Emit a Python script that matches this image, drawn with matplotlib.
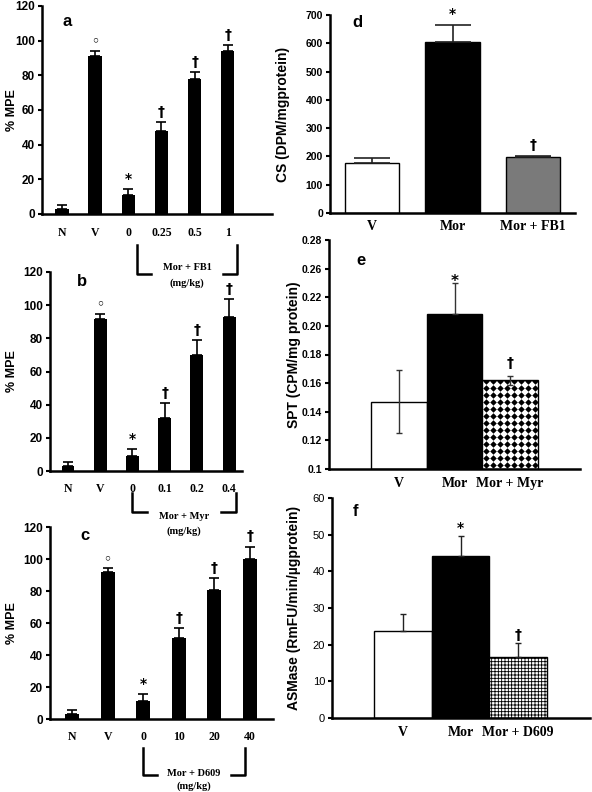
import numpy as np
import matplotlib
matplotlib.use("Agg")
import matplotlib.pyplot as plt
import matplotlib.transforms as mtransforms
from matplotlib.lines import Line2D

# ---- data ----
a_labels = ['N', 'V', '0', '0.25', '0.5', '1']
a_mean = [3, 91, 11, 48, 78, 94]
a_err = [2.3, 3, 3.4, 5, 3.8, 3.3]
a_marks = ['', '◦', '*', '†', '†', '†']

b_labels = ['N', 'V', '0', '0.1', '0.2', '0.4']
b_mean = [3, 91.5, 9, 32, 70, 93]
b_err = [2.4, 3.3, 4, 9, 8.8, 10.5]
b_marks = ['', '◦', '*', '†', '†', '†']

c_labels = ['N', 'V', '0', '10', '20', '40']
c_mean = [3, 91.7, 11.5, 50.4, 80.6, 100]
c_err = [2.5, 2.5, 4, 6.3, 7.7, 7.7]
c_marks = ['', '◦', '*', '†', '†', '†']

d_labels = ['V', 'Mor', 'Mor + FB1']
d_mean = [178, 603, 198]
d_err = [17, 63, 4]
d_marks = ['', '*', '†']

e_labels = ['V', 'Mor', 'Mor + Myr']
e_mean = [0.147, 0.208, 0.162]
e_err_lo = [0.022, 0.0, 0.003]
e_err_hi = [0.022, 0.022, 0.003]
e_marks = ['', '*', '†']
e_ticks = [0.10, 0.12, 0.14, 0.16, 0.18, 0.20, 0.22, 0.24, 0.26]
e_ticklabels = ['0.1', '0.12', '0.14', '0.16', '0.18', '0.20', '0.22', '0.26', '0.28']

f_labels = ['V', 'Mor', 'Mor + D609']
f_mean = [23.6, 44.1, 16.6]
f_err = [4.8, 5.6, 3.8]
f_marks = ['', '*', '†']

SANS = ['Liberation Sans', 'DejaVu Sans']
SERIF = ['Liberation Serif', 'DejaVu Serif']

fig = plt.figure(figsize=(5.92, 7.92), dpi=100)


def style_axes(ax, ymin, ymax, yticks, ylabel, label_x, tick_bold=True, tick_size=8,
               xsize=8.5, ysize=9):
    ax.patch.set_visible(False)
    ax.set_ylim(ymin, ymax)
    ax.set_yticks(yticks)
    for s in ['top', 'right']:
        ax.spines[s].set_visible(False)
    for s in ['left', 'bottom']:
        ax.spines[s].set_linewidth(1.8)
    ax.spines['left'].set_bounds(ymin, ymax)
    ax.tick_params(axis='y', direction='out', length=3, width=1.5, pad=2)
    ax.tick_params(axis='x', length=0, pad=9)
    for t in ax.get_yticklabels():
        t.set_fontproperties({'family': SANS, 'weight': 'bold' if tick_bold else 'normal',
                              'size': tick_size})
    for t in ax.get_xticklabels():
        t.set_fontproperties({'family': SERIF, 'weight': 'bold', 'size': xsize})
    ax.set_ylabel(ylabel, family=SANS, fontweight='bold', fontsize=ysize)
    ax.yaxis.set_label_coords(label_x, 0.5)


def mpe_panel(rect, labels, mean, err, marks, letter, xlim, letter_xy,
              bracket, btext, label_x):
    ax = fig.add_axes(rect)
    x = np.arange(len(labels))
    ax.bar(x, mean, width=0.4, color='black')
    ax.errorbar(x, mean, yerr=[np.zeros(len(err)), err], fmt='none',
                ecolor='black', elinewidth=1.2, capsize=3.5, capthick=1.2)
    for xi, m, e, mk in zip(x, mean, err, marks):
        if mk:
            ax.text(xi, m + e + 2, mk, ha='center', va='bottom',
                    fontsize=10 if mk != '◦' else 9, fontweight='bold',
                    family=['DejaVu Sans'])
    ax.set_xlim(*xlim)
    ax.set_xticks(x)
    ax.set_xticklabels(labels)
    style_axes(ax, 0, 120, [0, 20, 40, 60, 80, 100, 120], '% MPE', label_x,
               tick_size=8.5)
    ax.text(letter_xy[0], letter_xy[1], letter, transform=ax.transAxes,
            fontsize=12, fontweight='bold', family=SANS)
    # bracket below the dose labels
    tr = mtransforms.blended_transform_factory(ax.transData, ax.transAxes)
    x0, x1, ytop, ybot, stub = bracket
    for xs, sgn in [(x0, 1), (x1, -1)]:
        ax.add_line(Line2D([xs, xs, xs + sgn * stub], [ytop, ybot, ybot],
                           transform=tr, color='black', lw=1.8, clip_on=False))
    ax.text((x0 + x1) / 2, btext[0], btext[1], transform=tr, ha='center',
            va='center', fontsize=7.5, fontweight='bold', family=SERIF)
    ax.text((x0 + x1) / 2, btext[2], '(mg/kg)', transform=tr, ha='center',
            va='center', fontsize=7.5, fontweight='bold', family=SERIF)
    return ax


# panel a
mpe_panel([42 / 592, 1 - 214 / 792, 230 / 592, 208 / 792], a_labels, a_mean, a_err,
          a_marks, 'a', (-0.6, 6.33), (0.09, 0.905),
          (2.27, 5.27, -0.15, -0.29, 0.42), (-0.255, 'Mor + FB1', -0.335), -0.104)
# panel b
mpe_panel([50 / 592, 1 - 471 / 792, 192 / 592, 199 / 792], b_labels, b_mean, b_err,
          b_marks, 'b', (-0.56, 5.4), (0.14, 0.93),
          (2.0, 5.2, -0.11, -0.205, 0.45), (-0.23, 'Mor + Myr', -0.30), -0.167)
# panel c
mpe_panel([50 / 592, 1 - 719 / 792, 223 / 592, 192 / 792], c_labels, c_mean, c_err,
          c_marks, 'c', (-0.62, 5.65), (0.135, 0.93),
          (2.0, 4.86, -0.15, -0.29, 0.38), (-0.285, 'Mor + D609', -0.35), -0.1435)

# panel d
ax = fig.add_axes([330 / 592, 1 - 213 / 792, 245 / 592, 198 / 792])
x = np.arange(len(d_labels))
ax.bar(x, d_mean, width=0.68, color=['white', 'black', '#7a7a7a'],
       edgecolor='black', linewidth=1.0)
ax.errorbar(x, d_mean, yerr=[np.zeros(3), d_err], fmt='none', ecolor='#222222',
            elinewidth=1.2, capsize=13, capthick=1.2)
for xi, m, e, mk in zip(x, d_mean, d_err, d_marks):
    if mk:
        ax.text(xi, m + e + 12, mk, ha='center', va='bottom', fontsize=10,
                fontweight='bold', family=['DejaVu Sans'])
ax.set_xlim(-0.52, 2.52)
ax.set_xticks(x)
ax.set_xticklabels(d_labels)
style_axes(ax, 0, 700, np.arange(0, 701, 100), 'CS (DPM/mgprotein)', -0.165,
           tick_size=7.5, xsize=10, ysize=10)
ax.tick_params(axis='x', pad=5)
ax.text(0.09, 0.94, 'd', transform=ax.transAxes, fontsize=12, fontweight='bold',
        family=SANS)

# panel e
ax = fig.add_axes([329 / 592, 1 - 469 / 792, 251 / 592, 229 / 792])
x = np.arange(len(e_labels))
bars = ax.bar(x, np.array(e_mean) - 0.1, bottom=0.1, width=1.0,
              color=['white', 'black', 'white'], edgecolor='black', linewidth=1.0)
# dotted (diamond) fill of the last bar, clipped to the bar
hb = bars[2]
gx = np.arange(hb.get_x() + 0.06, hb.get_x() + hb.get_width(), 0.126)
gy = np.arange(0.1 + 0.0025, 0.1 + hb.get_height(), 0.0049)
GX, GY = np.meshgrid(gx, gy)
dots = ax.scatter(GX.ravel(), GY.ravel(), marker='D', s=11, color='black',
                  linewidths=0, zorder=3)
dots.set_clip_path(hb)
ax.errorbar(x, e_mean, yerr=[e_err_lo, e_err_hi], fmt='none', ecolor='#333333',
            elinewidth=1.0, capsize=2.5, capthick=1.0, zorder=4)
for xi, m, e, mk in zip(x, e_mean, e_err_hi, e_marks):
    if mk == '*':
        ax.text(xi, m + e - 0.004, mk, ha='center', va='bottom', fontsize=11,
                fontweight='bold', family=['DejaVu Sans'])
    elif mk:
        ax.text(xi, m + e + 0.004, mk, ha='center', va='bottom', fontsize=10,
                fontweight='bold', family=['DejaVu Sans'])
ax.set_xlim(-1.26, 3.26)
ax.set_xticks(x)
ax.set_xticklabels(e_labels)
style_axes(ax, 0.10, 0.26, e_ticks, 'SPT (CPM/mg protein)', -0.112,
           tick_size=7.5, xsize=10, ysize=10)
ax.set_yticklabels(e_ticklabels, family=SANS, fontweight='bold', fontsize=7.5)
ax.tick_params(axis='x', pad=6)
ax.text(0.11, 0.89, 'e', transform=ax.transAxes, fontsize=12, fontweight='bold',
        family=SANS)

# panel f
ax = fig.add_axes([332 / 592, 1 - 718 / 792, 258 / 592, 220 / 792])
x = np.arange(len(f_labels))
bars = ax.bar(x, f_mean, width=1.0, color=['white', 'black', 'white'],
              edgecolor='black', linewidth=1.0)
bars[2].set_hatch('+++++')
try:
    bars[2].set_hatch_linewidth(0.6)
except AttributeError:
    pass
ax.errorbar(x, f_mean, yerr=[np.zeros(3), f_err], fmt='none', ecolor='#222222',
            elinewidth=1.0, capsize=2.5, capthick=1.0)
for xi, m, e, mk in zip(x, f_mean, f_err, f_marks):
    if mk:
        ax.text(xi, m + e + 0.3, mk, ha='center', va='bottom', fontsize=10,
                fontweight='bold', family=['DejaVu Sans'])
ax.set_xlim(-1.235, 3.25)
ax.set_xticks(x)
ax.set_xticklabels(f_labels)
style_axes(ax, 0, 60, np.arange(0, 61, 10), 'ASMase (RmFU/min/µgprotein)', -0.12,
           tick_bold=False, tick_size=8, xsize=10, ysize=10)
ax.tick_params(axis='x', pad=6)
ax.text(0.08, 0.92, 'f', transform=ax.transAxes, fontsize=12, fontweight='bold',
        family=SANS)

fig.savefig('out.png', dpi=100, facecolor='white')
